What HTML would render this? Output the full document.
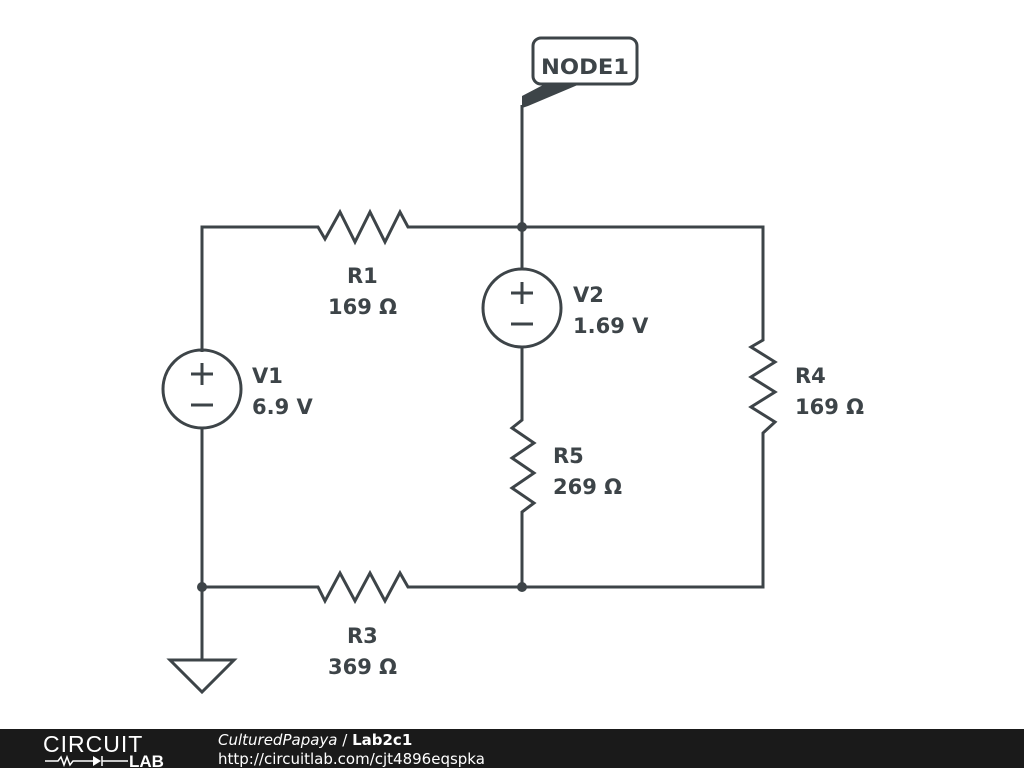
<!DOCTYPE html>
<html><head><meta charset="utf-8"><style>
html,body{margin:0;padding:0;background:#fff;width:1024px;height:768px;overflow:hidden}
svg{display:block}
text{font-family:"DejaVu Sans",sans-serif}
</style></head><body>
<svg width="1024" height="768" viewBox="0 0 1024 768">
<g stroke="#3d4448" stroke-width="3" fill="none" stroke-linejoin="miter">
<polyline points="202,352 202,227 318,227 325,239 340,212 355,242 370,212 385,242 400,212 408,227 763,227 763,340 751,347 775,362 751,377 775,392 751,407 775,422 763,433 763,587 408,587 400,573 385,601 370,573 355,601 340,573 325,601 318,587 202,587"/>
<line x1="202" y1="428" x2="202" y2="660"/>
<polygon points="170,660 234,660 202,692"/>
<line x1="522" y1="105" x2="522" y2="268"/>
<polyline points="522,348 522,420 512,428 534,443 512,458 534,473 512,488 534,503 522,512 522,587"/>
<circle cx="202" cy="389" r="39"/>
<circle cx="522" cy="308" r="39"/>
<line x1="191" y1="374" x2="213" y2="374"/><line x1="202" y1="363" x2="202" y2="385"/>
<line x1="191" y1="405" x2="213" y2="405"/>
<line x1="511" y1="293" x2="533" y2="293"/><line x1="522" y1="282" x2="522" y2="304"/>
<line x1="511" y1="324" x2="533" y2="324"/>
<rect x="533" y="38" width="104" height="46" rx="8"/>
</g>
<polygon points="522,96 545,84 580,84 528,106 522,108" fill="#3d4448"/>
<g fill="#3d4448">
<circle cx="522" cy="227" r="5"/>
<circle cx="522" cy="587" r="5"/>
<circle cx="202" cy="587" r="5"/>
</g>
<g fill="#3d4448" font-size="21" font-weight="bold">
<text x="541" y="74" textLength="88" lengthAdjust="spacingAndGlyphs">NODE1</text>
<text x="347" y="283">R1</text><text x="328" y="314">169 Ω</text>
<text x="252" y="383">V1</text><text x="252" y="414">6.9 V</text>
<text x="573" y="302">V2</text><text x="573" y="333">1.69 V</text>
<text x="795" y="383">R4</text><text x="795" y="414">169 Ω</text>
<text x="553" y="463">R5</text><text x="553" y="494">269 Ω</text>
<text x="347" y="643">R3</text><text x="328" y="674">369 Ω</text>
</g>
<rect x="0" y="729" width="1024" height="39" fill="#1a1a1a"/>
<text x="43" y="752" fill="#fff" font-size="23" style="font-family:'Liberation Sans',sans-serif;letter-spacing:1px">CIRCUIT</text>
<polyline points="45,761 58,761 61,757 64,765 67,757 70,765 73,761 93,761" fill="none" stroke="#fff" stroke-width="1.5"/>
<polygon points="93,756 93,766 101,761" fill="#fff"/>
<line x1="102" y1="756" x2="102" y2="766" stroke="#fff" stroke-width="1.5"/>
<line x1="102" y1="761" x2="128" y2="761" stroke="#fff" stroke-width="1.5"/>
<text x="129" y="767" fill="#fff" font-size="17" font-weight="bold" style="font-family:'Liberation Sans',sans-serif">LAB</text>
<text x="218" y="745" fill="#fff" font-size="15"><tspan font-style="italic">CulturedPapaya</tspan> / <tspan font-weight="bold">Lab2c1</tspan></text>
<text x="218" y="764" fill="#fff" font-size="15">http://circuitlab.com/cjt4896eqspka</text>
</svg>
</body></html>
